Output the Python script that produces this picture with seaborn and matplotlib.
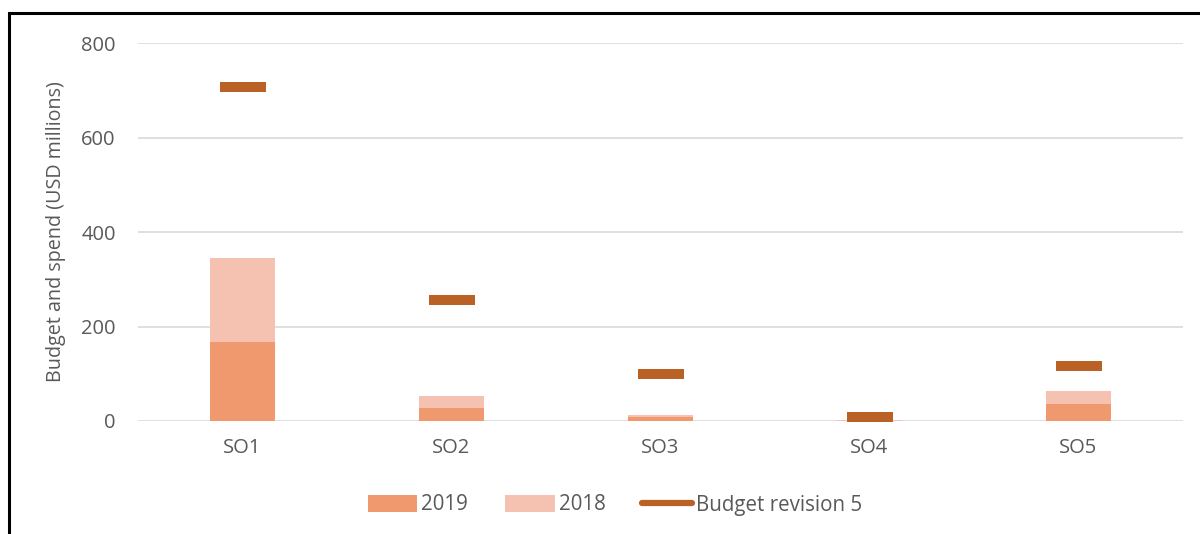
import matplotlib
matplotlib.use("Agg")
import matplotlib.pyplot as plt
import seaborn as sns
import numpy as np
import pandas as pd
from matplotlib.patches import Patch, Rectangle
from matplotlib.lines import Line2D

# Data (USD millions)
objectives = ["SO1", "SO2", "SO3", "SO4", "SO5"]
spend_2019 = [167, 28, 9, 0.5, 37]
spend_2018 = [178, 25, 3, 1, 27]
budget_rev5 = [707, 257, 99, 8, 116]
y_ticks = [0, 200, 400, 600, 800]

c_2019 = "#F0996F"
c_2018 = "#F5C2B1"
c_budget = "#BA6125"
c_text = "#595959"
c_grid = "#D9D9D9"

sns.set_style("white")
plt.rcParams["font.family"] = ["Open Sans", "DejaVu Sans"]

df = pd.DataFrame({
    "objective": objectives,
    "y2019": spend_2019,
    "y2018": spend_2018,
    "budget": budget_rev5,
})
df["stack_top"] = df["y2019"] + df["y2018"]

fig = plt.figure(figsize=(12, 5.34), dpi=100)
ax = fig.add_axes([138 / 1200, 1 - 421 / 534, (1183 - 138) / 1200, (421 - 43) / 534])

# stacked bars: 2018 sits on top of 2019
sns.barplot(data=df, x="objective", y="stack_top", color=c_2018, width=0.315,
            saturation=1, linewidth=0, ax=ax, zorder=2)
sns.barplot(data=df, x="objective", y="y2019", color=c_2019, width=0.315,
            saturation=1, linewidth=0, ax=ax, zorder=3)

# budget revision markers drawn as flat wide dashes
dash = [(-2.3, -0.5), (2.3, -0.5), (2.3, 0.5), (-2.3, 0.5), (-2.3, -0.5)]
sns.stripplot(data=df, x="objective", y="budget", jitter=False, marker=dash,
              size=32.5, color=c_budget, linewidth=0, ax=ax, zorder=4)
for coll in ax.collections:
    coll.set_clip_on(False)

ax.set_xlim(-0.5, 4.5)
ax.set_ylim(0, 800)
ax.set_yticks(y_ticks)
ax.grid(axis="y", color=c_grid, linewidth=1.2, zorder=0)
ax.set_axisbelow(True)
sns.despine(ax=ax, left=True, bottom=True)

ax.tick_params(axis="both", length=0, labelsize=14.5, labelcolor=c_text)
ax.tick_params(axis="y", pad=16)
ax.tick_params(axis="x", pad=12)
ax.set_xlabel("")
ax.set_ylabel("Budget and spend (USD millions)", fontsize=14.2, color=c_text, labelpad=11)

handles = [
    Patch(facecolor=c_2019, edgecolor="none", label="2019"),
    Patch(facecolor=c_2018, edgecolor="none", label="2018"),
    Line2D([0], [0], color=c_budget, lw=4.5, solid_capstyle="round", label="Budget revision 5"),
]
leg = fig.legend(handles=handles, loc="center", bbox_to_anchor=(615 / 1200, 1 - 505 / 534),
                 ncol=3, frameon=False, fontsize=14.8, handlelength=2.4, handleheight=0.9,
                 columnspacing=1.8, handletextpad=0.2)
for t in leg.get_texts():
    t.set_color(c_text)

# black frame around the figure panel (only top/left visible in crop)
fig.add_artist(Rectangle((9 / 1200, -0.5), 2.0, 0.5 + 1 - 13 / 534, transform=fig.transFigure,
                         fill=False, edgecolor="black", linewidth=2.2))

fig.savefig("out.png", dpi=100)
